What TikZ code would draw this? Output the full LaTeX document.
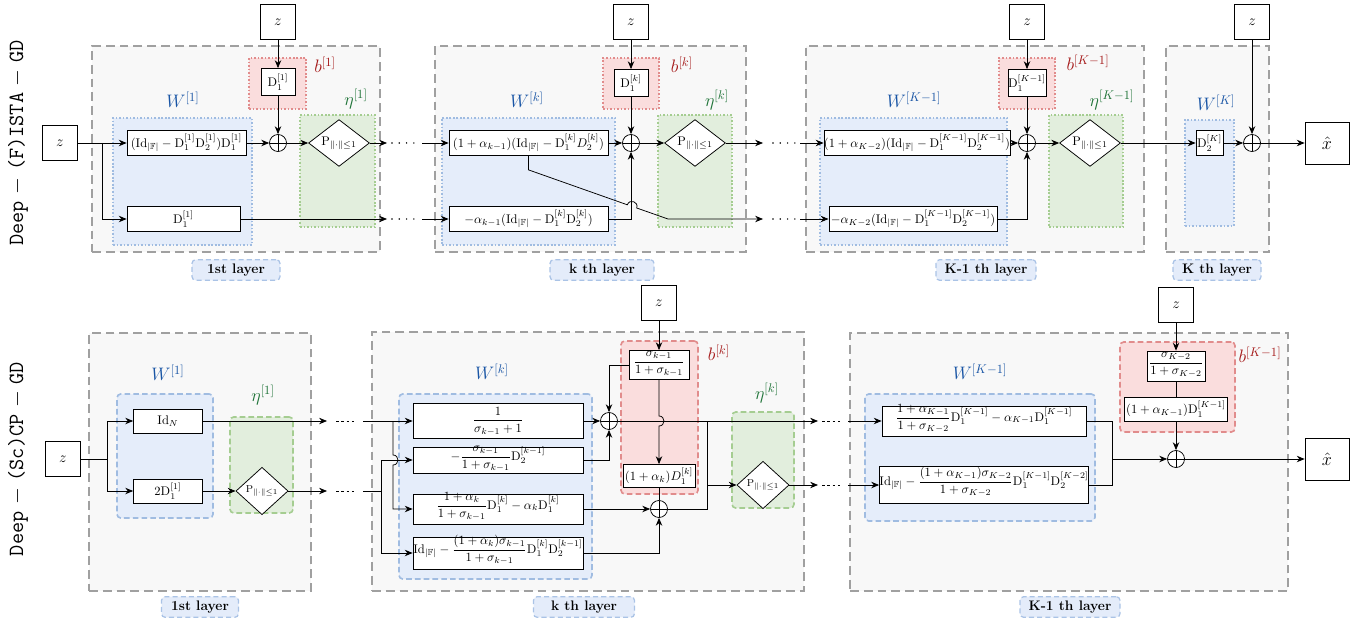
\documentclass[tikz,border=0pt]{standalone}
\usepackage{amsmath,amssymb}
\usetikzlibrary{arrows.meta,fit,shapes.geometric}
\definecolor{framedraw}{RGB}{160,160,160}
\definecolor{framefill}{RGB}{248,248,248}
\definecolor{wdraw}{RGB}{160,188,225}
\definecolor{wfill}{RGB}{229,237,250}
\definecolor{bdraw}{RGB}{225,140,140}
\definecolor{bfill}{RGB}{250,221,221}
\definecolor{edraw}{RGB}{165,205,145}
\definecolor{efill}{RGB}{226,238,221}
\definecolor{wtext}{RGB}{25,85,165}
\definecolor{btext}{RGB}{165,25,25}
\definecolor{etext}{RGB}{30,115,55}
\definecolor{capdraw}{RGB}{170,195,230}
\definecolor{capfill}{RGB}{228,236,250}
\def\px{0.028cm}
\def\Dm{\mathrm{D}}
\def\IdF{\mathrm{Id}_{|\mathbb{F}|}}
\def\Pnorm{\mathrm{P}_{\|\cdot\|\leq 1}}
\def\rowa{143}
\def\rowb{219}
\def\rowc{421}
\def\rowd{485}
\tikzset{
    unrolled/.style      = {x=\px, y=-\px, >={Stealth[length=2.2mm, width=1.8mm]}},
    line/.style          = {semithick},
    block/.style         = {draw, semithick, fill=white, inner xsep=1.5pt,
                            inner ysep=1pt, minimum height=25*\px},
    zbox/.style          = {block, font=\large, minimum width=35*\px, minimum height=35*\px},
    xbox/.style          = {block, font=\Large, minimum width=44*\px, minimum height=42*\px},
    adder/.style         = {draw, semithick, circle, fill=white, inner sep=0pt,
                            minimum size=17*\px,
                            path picture={\draw[semithick]
                              (path picture bounding box.north) -- (path picture bounding box.south)
                              (path picture bounding box.west) -- (path picture bounding box.east);}},
    prox/.style          = {draw, semithick, fill=white, diamond, aspect=1.3, inner sep=1.5pt},
    small prox/.style    = {prox, aspect=1.1, font=\footnotesize},
    layer frame/.style   = {draw=framedraw, fill=framefill, line width=1.2pt,
                            dash pattern=on 7pt off 4pt, inner sep=0pt},
    param region/.style  = {line width=1.3pt, inner sep=0pt},
    dotted region/.style = {param region, dash pattern=on 1.3pt off 1.5pt},
    dashed region/.style = {param region, dash pattern=on 4.5pt off 2.5pt, rounded corners=3pt},
    wpart/.style         = {draw=wdraw, fill=wfill},
    bpart/.style         = {draw=bdraw, fill=bfill},
    epart/.style         = {draw=edraw, fill=efill},
    wlabel/.style        = {text=wtext, font=\Large},
    blabel/.style        = {text=btext, font=\Large},
    elabel/.style        = {text=etext, font=\Large},
    layer caption/.style = {draw=capdraw, fill=capfill, line width=1pt,
                            dash pattern=on 4pt off 2.5pt, rounded corners=3pt,
                            font=\fontsize{11}{13}\selectfont\bfseries, inner xsep=0pt,
                            minimum height=19*\px},
    skip dots/.style     = {line width=1.3pt, dash pattern=on 0pt off 5.8pt, line cap=round},
    skip dashes/.style   = {semithick, dash pattern=on 2pt off 2.2pt},
    method name/.style   = {rotate=90, font=\LARGE}
}

\begin{document}
\begin{tikzpicture}[unrolled]
\useasboundingbox (0,0) rectangle (1363,625);

% Names of the two unrolled methods.
\node[method name] (fista name) at (18,\rowa)
    {\texttt{Deep} $-$ \texttt{(F)ISTA} $-$ \texttt{GD}};
\node[method name] (cp name) at (18,459)
    {\texttt{Deep} $-$ \texttt{(Sc)CP} $-$ \texttt{GD}};

% Upper row: layer frames and their parameter groups.
\node[layer frame, fit={(92,46) (380,252)}] (fista L1) {};
\node[layer frame, fit={(435,46) (746,252)}] (fista Lk) {};
\node[layer frame, fit={(806,46) (1144,252)}] (fista LK1) {};
\node[layer frame, fit={(1166,46) (1269,252)}] (fista LK) {};
\node[dotted region, wpart, fit={(113,118) (252,245)}] (fista W1) {};
\node[dotted region, bpart, fit={(249,58) (306,109)}] (fista b1) {};
\node[dotted region, epart, fit={(300,115) (375,227)}] (fista e1) {};
\node[dotted region, wpart, fit={(442,118) (615,245)}] (fista Wk) {};
\node[dotted region, bpart, fit={(603,58) (659,109)}] (fista bk) {};
\node[dotted region, epart, fit={(658,115) (732,227)}] (fista ek) {};
\node[dotted region, wpart, fit={(820,118) (1007,245)}] (fista WK1) {};
\node[dotted region, bpart, fit={(999,58) (1055,109)}] (fista bK1) {};
\node[dotted region, epart, fit={(1049,115) (1123,227)}] (fista eK1) {};
\node[dotted region, wpart, fit={(1185,120) (1234,226)}] (fista WK) {};
\node[wlabel] (fista W1 label) at (183,100) {$W^{[1]}$};
\node[blabel] (fista b1 label) at (325,65) {$b^{[1]}$};
\node[elabel] (fista e1 label) at (356,99) {$\eta^{[1]}$};
\node[wlabel] (fista Wk label) at (527,100) {$W^{[k]}$};
\node[blabel] (fista bk label) at (682,65) {$b^{[k]}$};
\node[elabel] (fista ek label) at (717,100) {$\eta^{[k]}$};
\node[wlabel] (fista WK1 label) at (914,100) {$W^{[K-1]}$};
\node[blabel] (fista bK1 label) at (1088,63) {$b^{[K-1]}$};
\node[elabel] (fista eK1 label) at (1112,100) {$\eta^{[K-1]}$};
\node[wlabel] (fista WK label) at (1216,103) {$W^{[K]}$};
\node[layer caption, minimum width=88*\px] (fista L1 caption) at (236,270) {1st layer};
\node[layer caption, minimum width=104*\px] (fista Lk caption) at (602,270) {k th layer};
\node[layer caption, minimum width=100*\px] (fista LK1 caption) at (986,270) {K-1 th layer};
\node[layer caption, minimum width=88*\px] (fista LK caption) at (1217,270) {K th layer};

% Upper row, first layer.
\node[zbox] (fista z) at (60,\rowa) {$z$};
\node[block, minimum width=119*\px] (fista A1) at (186.5,\rowa)
    {$(\IdF-\Dm_1^{[1]}\Dm_2^{[1]})\Dm_1^{[1]}$};
\node[block, minimum width=113*\px] (fista B1) at (183.5,\rowb) {$\Dm_1^{[1]}$};
\node[zbox] (fista z1) at (278,22) {$z$};
\node[block, minimum width=34*\px, minimum height=27*\px] (fista D1) at (278,82) {$\Dm_1^{[1]}$};
\node[adder] (fista s1) at (278,\rowa) {};
\node[prox] (fista p1) at (339,\rowa) {$\Pnorm$};
\coordinate (fista split) at (102,\rowa);
\draw[->, line] (fista z.east) -- (fista A1.west);
\draw[->, line] (fista split) |- (fista B1.west);
\draw[->, line] (fista z1) -- (fista D1);
\draw[->, line] (fista D1) -- (fista s1);
\draw[->, line] (fista A1.east) -- (fista s1.west);
\draw[->, line] (fista s1.east) -- (fista p1.west);

% Upper row, k th layer.
\node[block, minimum width=159*\px] (fista Ak) at (528.5,\rowa)
    {$(1+\alpha_{k-1})(\IdF-\Dm_1^{[k]}D_2^{[k]})$};
\node[block, minimum width=159*\px] (fista Bk) at (528.5,\rowb)
    {$-\alpha_{k-1}(\IdF-\Dm_1^{[k]}\Dm_2^{[k]})$};
\node[zbox] (fista zk) at (631,22) {$z$};
\node[block, minimum width=34*\px, minimum height=27*\px] (fista Dk) at (631,83) {$\Dm_1^{[k]}$};
\node[adder] (fista sk) at (631,\rowa) {};
\node[prox] (fista pk) at (695,\rowa) {$\Pnorm$};
\draw[->, line] (fista zk) -- (fista Dk);
\draw[->, line] (fista Dk) -- (fista sk);
\draw[->, line] (fista Ak.east) -- (fista sk.west);
\draw[->, line] (fista Bk.east) -| (fista sk.south);
\draw[->, line] (fista sk.east) -- (fista pk.west);

% Upper row, K-1 th and K th layers.
\node[block, minimum width=176*\px, inner xsep=0pt] (fista AK1) at (917,\rowa)
    {$(1+\alpha_{K-2})(\IdF-\Dm_1^{[K-1]}\Dm_2^{[K-1]})$};
\node[block, minimum width=168*\px] (fista BK1) at (913,\rowb)
    {$-\alpha_{K-2}(\IdF-\Dm_1^{[K-1]}\Dm_2^{[K-1]})$};
\node[zbox] (fista zK1) at (1027,22) {$z$};
\node[block, minimum width=36*\px, minimum height=27*\px, inner xsep=0pt] (fista DK1)
    at (1027,83) {$\Dm_1^{[K-1]}$};
\node[adder] (fista sK1) at (1027,\rowa) {};
\node[prox] (fista pK1) at (1090,\rowa) {$\Pnorm$};
\node[block, minimum width=27*\px, inner xsep=0pt] (fista DK) at (1209.5,\rowa) {$\Dm_2^{[K]}$};
\node[zbox] (fista zK) at (1252,22) {$z$};
\node[adder] (fista sK) at (1252,\rowa) {};
\node[xbox] (fista xhat) at (1327,\rowa) {$\hat{x}$};
\draw[->, line] (fista zK1) -- (fista DK1);
\draw[->, line] (fista DK1) -- (fista sK1);
\draw[->, line] (fista AK1.east) -- (fista sK1.west);
\draw[->, line] (fista BK1.east) -| (fista sK1.south);
\draw[->, line] (fista sK1.east) -- (fista pK1.west);
\draw[->, line] (fista pK1.east) -- (fista DK.west);
\draw[->, line] (fista DK.east) -- (fista sK.west);
\draw[->, line] (fista zK) -- (fista sK);
\draw[->, line] (fista sK.east) -- (fista xhat.west);

% Upper row, skipped layers; the k th upper branch crosses to the lower row.
\coordinate (fista gap1 a) at (387,\rowa);
\coordinate (fista gap1 b) at (387,\rowb);
\coordinate (fista gap2 a) at (422,\rowa);
\coordinate (fista gap2 b) at (422,\rowb);
\coordinate (fista gap3 a) at (763,\rowa);
\coordinate (fista gap3 b) at (763,\rowb);
\coordinate (fista gap4 a) at (800,\rowa);
\coordinate (fista gap4 b) at (800,\rowb);
\draw[->, line] (fista p1.east) -- (fista gap1 a);
\draw[->, line] (fista B1.east) -- (fista gap1 b);
\draw[->, line] (fista gap2 a) -- (fista Ak.west);
\draw[->, line] (fista gap2 b) -- (fista Bk.west);
\draw[->, line] (fista pk.east) -- (fista gap3 a);
\draw[->, line] (fista Ak.south) -- ++(0,14) -- (627.3,204.8)
    .. controls (629.5,198.5) and (638.9,201.7) .. (636.7,208.0)
    -- (668,\rowb) -- (fista gap3 b);
\draw[->, line] (fista gap4 a) -- (fista AK1.west);
\draw[->, line] (fista gap4 b) -- (fista BK1.west);
\foreach \y in {\rowa,\rowb} {
    \draw[skip dots] (392,\y) -- (414,\y);
    \draw[skip dots] (773,\y) -- (795,\y);
}

% Lower row: layer frames and their parameter groups.
\node[layer frame, fit={(89,333) (311,591)}] (cp L1) {};
\node[layer frame, fit={(372,332) (804,591)}] (cp Lk) {};
\node[layer frame, fit={(850,333) (1288,591)}] (cp LK1) {};
\node[dashed region, wpart, fit={(117,394) (213,518)}] (cp W1) {};
\node[dashed region, epart, fit={(230,417) (293,513)}] (cp e1) {};
\node[dashed region, wpart, fit={(399,394) (592,579)}] (cp Wk) {};
\node[dashed region, bpart, fit={(621,341) (698,494)}] (cp bk) {};
\node[dashed region, epart, fit={(732,412) (794,508)}] (cp ek) {};
\node[dashed region, wpart, fit={(865,394) (1095,521)}] (cp WK1) {};
\node[dashed region, bpart, fit={(1120,342) (1235,432)}] (cp bK1) {};
\node[wlabel] (cp W1 label) at (168,373) {$W^{[1]}$};
\node[elabel] (cp e1 label) at (263,395) {$\eta^{[1]}$};
\node[wlabel] (cp Wk label) at (492,372) {$W^{[k]}$};
\node[blabel] (cp bk label) at (719,353) {$b^{[k]}$};
\node[elabel] (cp ek label) at (767,393) {$\eta^{[k]}$};
\node[wlabel] (cp WK1 label) at (980,372) {$W^{[K-1]}$};
\node[blabel] (cp bK1 label) at (1260,355) {$b^{[K-1]}$};
\node[layer caption, minimum width=77*\px] (cp L1 caption) at (200,607) {1st layer};
\node[layer caption, minimum width=101*\px] (cp Lk caption) at (584,607) {k th layer};
\node[layer caption, minimum width=100*\px] (cp LK1 caption) at (1070,607) {K-1 th layer};

% Lower row, first layer.
\node[zbox] (cp z) at (63,459) {$z$};
\node[block, minimum width=69*\px, minimum height=24*\px] (cp id) at (168,\rowc) {$\mathrm{Id}_N$};
\node[block, minimum width=69*\px, minimum height=24*\px] (cp dd) at (168,491) {$2\Dm_1^{[1]}$};
\node[small prox] (cp p1) at (262,491) {$\Pnorm$};
\coordinate (cp split) at (107,459);
\coordinate (cp gap1 a) at (327,\rowc);
\coordinate (cp gap1 b) at (327,491);
\draw[line] (cp z.east) -- (cp split);
\draw[->, line] (cp split) |- (cp id.west);
\draw[->, line] (cp split) |- (cp dd.west);
\draw[->, line] (cp dd.east) -- (cp p1.west);
\draw[->, line] (cp id.east) -- (cp gap1 a);
\draw[->, line] (cp p1.east) -- (cp gap1 b);

% Lower row, k th layer.
\node[block, minimum width=170*\px, minimum height=35*\px] (cp C1) at (498,\rowc)
    {$\dfrac{1}{\sigma_{k-1}+1}$};
\node[block, minimum width=170*\px, minimum height=26*\px] (cp C2) at (498,460)
    {\smash{$-\dfrac{\sigma_{k-1}}{1+\sigma_{k-1}}\Dm_2^{[k-1]}$}};
\node[block, minimum width=170*\px, minimum height=30*\px] (cp C3) at (498,509)
    {\smash{$\dfrac{1+\alpha_k}{1+\sigma_{k-1}}\Dm_1^{[k]}-\alpha_k\Dm_1^{[k]}$}};
\node[block, minimum width=170*\px, minimum height=32*\px, inner xsep=0pt] (cp C4) at (498,553)
    {\smash{$\IdF-\dfrac{(1+\alpha_k)\sigma_{k-1}}{1+\sigma_{k-1}}\Dm_1^{[k]}\Dm_2^{[k-1]}$}};
\node[zbox] (cp zk) at (659,303) {$z$};
\node[block, minimum width=60*\px, minimum height=29*\px] (cp sg) at (659,365)
    {\smash{$\dfrac{\sigma_{k-1}}{1+\sigma_{k-1}}$}};
\node[block, minimum width=70*\px, minimum height=23*\px] (cp ad) at (659,476)
    {$(1+\alpha_k)D_1^{[k]}$};
\node[adder] (cp s1) at (609,\rowc) {};
\node[adder] (cp s2) at (659,509) {};
\node[small prox] (cp pk) at (763,\rowd) {$\Pnorm$};
\coordinate (cp gap2 a) at (363,\rowc);
\coordinate (cp gap2 b) at (363,491);
\coordinate (cp fork a) at (393,\rowc);
\coordinate (cp fork b) at (381,491);
\coordinate (cp join) at (707,\rowc);
\coordinate (cp eta in) at (707,\rowd);
\draw[->, line] (cp gap2 a) -- (cp C1.west);
\draw[->, line] (cp fork a) -- (393,455) .. controls (399.6,455) and (399.6,465) .. (393,465)
    |- (cp C3.west);
\draw[line] (cp gap2 b) -- (cp fork b);
\draw[->, line] (cp fork b) |- (cp C2.west);
\draw[->, line] (cp fork b) |- (cp C4.west);
\draw[->, line] (cp C1.east) -- (cp s1.west);
\draw[->, line] (cp C2.east) -| (cp s1.south);
\draw[->, line] (cp zk) -- (cp sg);
\draw[->, line] (cp sg.west) -| (cp s1.north);
\draw[->, line] (cp sg.south) -- (659,416) .. controls (665.6,416) and (665.6,426) .. (659,426)
    -- (cp ad.north);
\draw[line] (cp ad.south) -- (cp s2.north);
\draw[->, line] (cp C3.east) -- (cp s2.west);
\draw[->, line] (cp C4.east) -| (cp s2.south);
\draw[line] (cp s2.east) -| (cp join);
\draw[->, line] (cp eta in) -- (cp pk.west);

% Lower row, K-1 th layer.
\node[block, minimum width=204*\px, minimum height=30*\px] (cp E1) at (984,\rowc)
    {\smash{$\dfrac{1+\alpha_{K-1}}{1+\sigma_{K-2}}\Dm_1^{[K-1]}-\alpha_{K-1}\Dm_1^{[K-1]}$}};
\node[block, minimum width=204*\px, minimum height=37*\px, inner xsep=0pt] (cp E2) at (984,\rowd)
    {\smash{$\IdF-\dfrac{(1+\alpha_{K-1})\sigma_{K-2}}{1+\sigma_{K-2}}\Dm_1^{[K-1]}\Dm_2^{[K-2]}$}};
\node[zbox] (cp zK1) at (1176,305) {$z$};
\node[block, minimum width=58*\px, minimum height=30*\px] (cp sgK1) at (1176,366)
    {\smash{$\dfrac{\sigma_{K-2}}{1+\sigma_{K-2}}$}};
\node[block, minimum width=102*\px, minimum height=24*\px] (cp adK1) at (1176,409)
    {$(1+\alpha_{K-1})\Dm_1^{[K-1]}$};
\node[adder] (cp sK1) at (1176,459) {};
\node[xbox] (cp xhat) at (1327,459) {$\hat{x}$};
\coordinate (cp gap3 a) at (818,\rowc);
\coordinate (cp gap3 b) at (818,\rowd);
\coordinate (cp gap4 a) at (848,\rowc);
\coordinate (cp gap4 b) at (848,\rowd);
\coordinate (cp K1 join) at (1112,459);
\draw[->, line] (cp s1.east) -- (cp gap3 a);
\draw[->, line] (cp pk.east) -- (cp gap3 b);
\draw[->, line] (cp gap4 a) -- (cp E1.west);
\draw[->, line] (cp gap4 b) -- (cp E2.west);
\draw[line] (cp E1.east) -| (cp K1 join);
\draw[line] (cp E2.east) -| (cp K1 join);
\draw[->, line] (cp K1 join) -- (cp sK1.west);
\draw[->, line] (cp zK1) -- (cp sgK1);
\draw[line] (cp sgK1) -- (cp adK1);
\draw[->, line] (cp adK1) -- (cp sK1);
\draw[->, line] (cp sK1.east) -- (cp xhat.west);
\foreach \y in {\rowc,491} {
    \draw[skip dashes] (336,\y) -- (356,\y);
}
\foreach \y in {\rowc,\rowd} {
    \draw[skip dashes] (822,\y) -- (842,\y);
}

\end{tikzpicture}
\end{document}
